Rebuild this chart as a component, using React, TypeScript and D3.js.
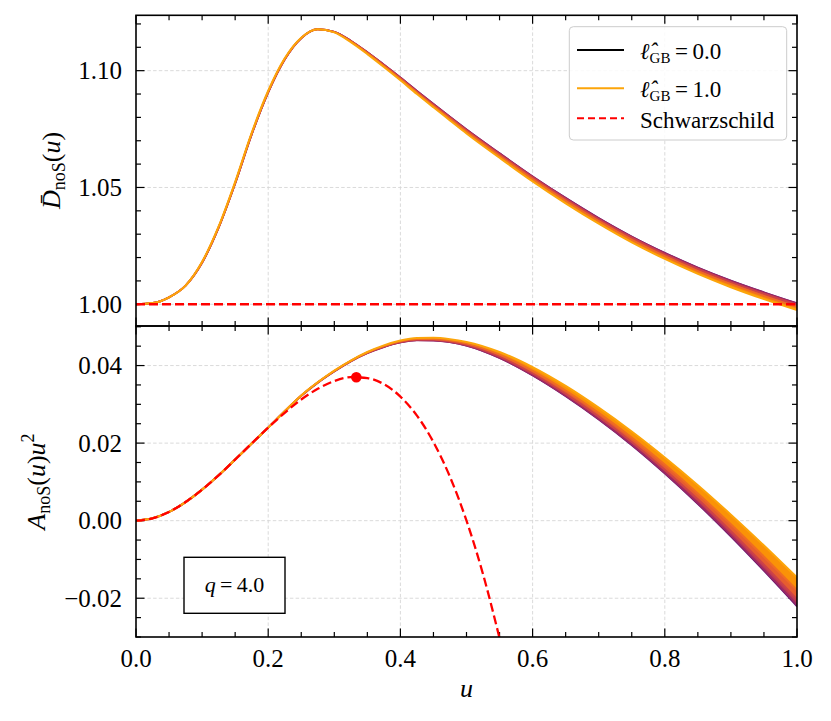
import React from 'react';
import * as d3 from 'd3';

// shared u grid for all GB curves
const uGrid = [
  0, 0.025, 0.05, 0.075, 0.1, 0.125, 0.15, 0.175, 0.2, 0.225, 0.25, 0.275, 0.3, 0.325,
  0.35, 0.375, 0.4, 0.425, 0.45, 0.475, 0.5, 0.55, 0.6, 0.65, 0.7, 0.75, 0.8, 0.85, 0.9, 0.95, 1.0,
];

const ellValues = [0, 0.25, 0.5, 0.75, 1.0];

// top panel: D_noS(u) for each l_GB
const dTopL000 = [
  1.0, 1.0005, 1.003, 1.008, 1.0178, 1.0328, 1.0517, 1.0726, 1.0907, 1.1048, 1.1139, 1.1177, 1.1167, 1.1128,
  1.1079, 1.1026, 1.0971, 1.0914, 1.0858, 1.0803, 1.0749, 1.0647, 1.0548, 1.0456, 1.037, 1.0291, 1.0221, 1.0158, 1.0102, 1.0052, 1.0005,
];
const dTopL025 = [
  1.0, 1.0005, 1.003, 1.008, 1.0178, 1.0328, 1.0517, 1.0727, 1.0907, 1.1048, 1.1139, 1.1177, 1.1166, 1.1128,
  1.1079, 1.1025, 1.097, 1.0913, 1.0857, 1.0802, 1.0748, 1.0646, 1.0547, 1.0455, 1.0368, 1.0289, 1.0219, 1.0156, 1.01, 1.005, 1.0003,
];
const dTopL050 = [
  1.0, 1.0005, 1.003, 1.008, 1.0179, 1.0329, 1.0518, 1.0728, 1.0908, 1.1049, 1.114, 1.1177, 1.1166, 1.1127,
  1.1077, 1.1024, 1.0968, 1.091, 1.0854, 1.0799, 1.0745, 1.0642, 1.0543, 1.045, 1.0364, 1.0285, 1.0214, 1.0151, 1.0095, 1.0045, 0.9998,
];
const dTopL075 = [
  1.0, 1.0005, 1.003, 1.008, 1.018, 1.033, 1.052, 1.073, 1.091, 1.105, 1.114, 1.1177, 1.1165, 1.1125,
  1.1075, 1.102, 1.0964, 1.0906, 1.0849, 1.0794, 1.0739, 1.0636, 1.0536, 1.0443, 1.0356, 1.0276, 1.0206, 1.0142, 1.0086, 1.0035, 0.9988,
];
const dTopL100 = [
  1.0, 1.0005, 1.003, 1.008, 1.0182, 1.0333, 1.0524, 1.0734, 1.0914, 1.1053, 1.1141, 1.1177, 1.1164, 1.1122,
  1.1071, 1.1016, 1.0959, 1.09, 1.0843, 1.0787, 1.0731, 1.0627, 1.0526, 1.0432, 1.0345, 1.0265, 1.0194, 1.013, 1.0073, 1.0022, 0.9975,
];

// bottom panel: A_noS(u) u^2 for each l_GB
const aBotL000 = [
  0, 0.0006, 0.00225, 0.0048, 0.008, 0.0117, 0.01575, 0.0199, 0.024, 0.0282, 0.0322, 0.0356, 0.0385, 0.0411,
  0.0432, 0.0448, 0.04595, 0.0465, 0.04645, 0.046, 0.0451, 0.0419, 0.0374, 0.03205, 0.02605, 0.0194, 0.0121, 0.00425, -0.00415, -0.013, -0.02215,
];
const aBotL025 = [
  0, 0.0006, 0.00225, 0.0048, 0.008, 0.0117, 0.01575, 0.0199, 0.024, 0.0282, 0.0322, 0.0356, 0.0385, 0.0411,
  0.0432, 0.0448, 0.04598, 0.04654, 0.04649, 0.04605, 0.04516, 0.042, 0.03754, 0.03222, 0.02624, 0.01963, 0.01236, 0.00456, -0.00379, -0.01259, -0.02168,
];
const aBotL050 = [
  0, 0.0006, 0.00225, 0.0048, 0.008, 0.0117, 0.01575, 0.0199, 0.024, 0.0282, 0.0322, 0.0356, 0.0386, 0.0412,
  0.0433, 0.0449, 0.04608, 0.04665, 0.04663, 0.0462, 0.04535, 0.0423, 0.03795, 0.0327, 0.02683, 0.0203, 0.01315, 0.0055, -0.0027, -0.01135, -0.0203,
];
const aBotL075 = [
  0, 0.0006, 0.00225, 0.0048, 0.008, 0.0117, 0.01575, 0.0199, 0.024, 0.0282, 0.0323, 0.0357, 0.0386, 0.0412,
  0.0434, 0.045, 0.04623, 0.04684, 0.04684, 0.04645, 0.04566, 0.0428, 0.03864, 0.03357, 0.02779, 0.02143, 0.01446, 0.00701, -0.00094, -0.00929, -0.01793,
];
const aBotL100 = [
  0, 0.0006, 0.00225, 0.0048, 0.008, 0.0117, 0.01575, 0.0199, 0.024, 0.0282, 0.0323, 0.0357, 0.0387, 0.0413,
  0.0435, 0.0452, 0.04645, 0.0471, 0.04715, 0.0468, 0.0461, 0.0435, 0.0396, 0.03475, 0.02915, 0.023, 0.0163, 0.00915, 0.00155, -0.0064, -0.01465,
];

const dTop = [dTopL000, dTopL025, dTopL050, dTopL075, dTopL100];
const aBot = [aBotL000, aBotL025, aBotL050, aBotL075, aBotL100];

// Schwarzschild reference
const schwTopU = [0, 1];
const schwTopD = [1, 1];
const schwU = [
  0, 0.025, 0.05, 0.075, 0.1, 0.125, 0.15, 0.175, 0.2, 0.225, 0.25, 0.275, 0.3, 0.325,
  0.35, 0.375, 0.4, 0.425, 0.45, 0.475, 0.5, 0.525, 0.55,
];
const schwA = [
  0, 0.0006, 0.00225, 0.0048, 0.008, 0.0117, 0.01575, 0.0199, 0.024, 0.0278, 0.03125, 0.034, 0.036, 0.037,
  0.03675, 0.0352, 0.032, 0.0271, 0.02025, 0.0113, 0, -0.0138, -0.0303,
];
const schwPeakU = 0.3333;
const schwPeakA = 0.037;

// ticks
const xTicks = [0, 0.2, 0.4, 0.6, 0.8, 1.0];
const xTickLabels = ['0.0', '0.2', '0.4', '0.6', '0.8', '1.0'];
const yTopTicks = [1.0, 1.05, 1.1];
const yTopTickLabels = ['1.00', '1.05', '1.10'];
const yBotTicks = [-0.02, 0, 0.02, 0.04];
const yBotTickLabels = ['\u22120.02', '0.00', '0.02', '0.04'];

const FONT = "'Liberation Serif', 'DejaVu Serif', serif";
const L = 136;
const R = 797;
const TOP_T = 15.3;
const MID = 326;
const BOT_B = 637;

const x = d3.scaleLinear().domain([0, 1]).range([L, R]);
const yTop = d3.scaleLinear().domain([0.9907, 1.1237]).range([MID, TOP_T]);
const yBot = d3.scaleLinear().domain([-0.03, 0.0502]).range([BOT_B, MID]);
// band colours run from purple to orange along inferno
const bandColor = (ell: number) => d3.interpolateInferno(0.3 + 0.5 * ell);

const xMinor = d3.range(0, 21).map(i => i * 0.05);
const yTopMinor = d3.range(0, 14).map(i => 0.99 + i * 0.01);
const yBotMinor = d3.range(0, 17).map(i => -0.03 + i * 0.005);

function Band({ series, y }: { series: number[][]; y: d3.ScaleLinear<number, number> }) {
  const line = d3.line<number>()
    .x((_, i) => x(uGrid[i]))
    .y(d => y(d))
    .curve(d3.curveMonotoneX);
  const area = (lo: number[], hi: number[]) =>
    d3.area<number>()
      .x((_, i) => x(uGrid[i]))
      .y0((_, i) => y(lo[i]))
      .y1((_, i) => y(hi[i]))
      .curve(d3.curveMonotoneX)(lo) || '';
  return (
    <g>
      {series.slice(1).map((s, i) => (
        <path key={'a' + i} d={area(series[i], s)}
          fill={d3.interpolateInferno(0.26 + 0.5 * ellValues[i + 1])} stroke="none" />
      ))}
      {series.map((s, i) => (
        <path key={'l' + i} d={line(s) || ''} fill="none"
          stroke={bandColor(ellValues[i])} strokeWidth={i === 0 ? 1.5 : 2} />
      ))}
    </g>
  );
}

function Frame({ y, top, bottom, major, minor, labels, showX }: {
  y: d3.ScaleLinear<number, number>; top: number; bottom: number;
  major: number[]; minor: number[]; labels: string[]; showX: boolean;
}) {
  const inRange = (v: number) => y(v) <= bottom + 0.1 && y(v) >= top - 0.1;
  return (
    <g>
      {xTicks.slice(1, -1).map(t => (
        <line key={'gx' + t} x1={x(t)} x2={x(t)} y1={top} y2={bottom}
          stroke="#d6d6d6" strokeWidth={0.9} strokeDasharray="3.5,2.2" />
      ))}
      {major.map(t => (
        <line key={'gy' + t} x1={L} x2={R} y1={y(t)} y2={y(t)}
          stroke="#d6d6d6" strokeWidth={0.9} strokeDasharray="3.5,2.2" />
      ))}
      {xMinor.map((t, i) => {
        const len = i % 4 === 0 ? 8.5 : 5;
        return (
          <g key={'tx' + i} stroke="#000" strokeWidth={1.2}>
            <line x1={x(t)} x2={x(t)} y1={top} y2={top + len} />
            <line x1={x(t)} x2={x(t)} y1={bottom} y2={bottom - len} />
          </g>
        );
      })}
      {minor.filter(inRange).map((t, i) => {
        const isMajor = major.some(m => Math.abs(m - t) < 1e-6);
        const len = isMajor ? 8.5 : 5;
        return (
          <g key={'ty' + i} stroke="#000" strokeWidth={1.2}>
            <line x1={L} x2={L + len} y1={y(t)} y2={y(t)} />
            <line x1={R} x2={R - len} y1={y(t)} y2={y(t)} />
          </g>
        );
      })}
      {major.map((t, i) => (
        <text key={'ly' + t} x={122} y={y(t)} dy="0.34em" textAnchor="end"
          fontFamily={FONT} fontSize={25}>{labels[i]}</text>
      ))}
      {showX && xTicks.map((t, i) => (
        <text key={'lx' + t} x={x(t)} y={667} textAnchor="middle"
          fontFamily={FONT} fontSize={25}>{xTickLabels[i]}</text>
      ))}
    </g>
  );
}

function EllLabel({ xPos, yPos, value }: { xPos: number; yPos: number; value: string }) {
  return (
    <text x={xPos} y={yPos} fontFamily={FONT} fontSize={23}>
      <tspan fontStyle="italic">{'\u2113\u0302'}</tspan>
      <tspan fontSize={15} dy={4}>GB</tspan>
      <tspan dy={-4}>{'\u2009=\u2009' + value}</tspan>
    </text>
  );
}

export default function App() {
  const schwLineTop = d3.line<number>().x((_, i) => x(schwTopU[i])).y(d => yTop(d));
  const schwLineBot = d3.line<number>().x((_, i) => x(schwU[i])).y(d => yBot(d)).curve(d3.curveMonotoneX);

  return (
    <svg width={831} height={721} style={{ position: 'absolute', left: 0, top: 0, background: '#fff' }}>
      <defs>
        <clipPath id="clipTop"><rect x={L} y={TOP_T} width={R - L} height={MID - TOP_T} /></clipPath>
        <clipPath id="clipBot"><rect x={L} y={MID} width={R - L} height={BOT_B - MID} /></clipPath>
      </defs>
      <rect x={0} y={0} width={831} height={721} fill="#fff" />

      {/* top panel */}
      <Frame y={yTop} top={TOP_T} bottom={MID} major={yTopTicks} minor={yTopMinor}
        labels={yTopTickLabels} showX={false} />
      <g clipPath="url(#clipTop)">
        <Band series={dTop} y={yTop} />
        <path d={schwLineTop(schwTopD) || ''} fill="none" stroke="#ff0000"
          strokeWidth={2.3} strokeDasharray="9,4" />
      </g>

      {/* bottom panel */}
      <Frame y={yBot} top={MID} bottom={BOT_B} major={yBotTicks} minor={yBotMinor}
        labels={yBotTickLabels} showX={true} />
      <g clipPath="url(#clipBot)">
        <Band series={aBot} y={yBot} />
        <path d={schwLineBot(schwA) || ''} fill="none" stroke="#ff0000"
          strokeWidth={2.3} strokeDasharray="9,4" />
        <circle cx={x(schwPeakU)} cy={yBot(schwPeakA)} r={5.3} fill="#ff0000" />
      </g>

      <rect x={L} y={TOP_T} width={R - L} height={MID - TOP_T} fill="none" stroke="#000" strokeWidth={1.6} />
      <rect x={L} y={MID} width={R - L} height={BOT_B - MID} fill="none" stroke="#000" strokeWidth={1.6} />

      {/* axis labels */}
      <text transform="translate(60,170.5) rotate(-90)" textAnchor="middle" fontFamily={FONT} fontSize={26}>
        <tspan fontStyle="italic">{'D\u0304'}</tspan>
        <tspan fontSize={18} dy={5}>noS</tspan>
        <tspan dy={-5}>(</tspan>
        <tspan fontStyle="italic">u</tspan>
        <tspan>)</tspan>
      </text>
      <text transform="translate(45,481.5) rotate(-90)" textAnchor="middle" fontFamily={FONT} fontSize={26}>
        <tspan fontStyle="italic">A</tspan>
        <tspan fontSize={18} dy={5}>noS</tspan>
        <tspan dy={-5}>(</tspan>
        <tspan fontStyle="italic">u</tspan>
        <tspan>)</tspan>
        <tspan fontStyle="italic">u</tspan>
        <tspan fontSize={18} dy={-11}>2</tspan>
      </text>
      <text x={466.5} y={697} textAnchor="middle" fontFamily={FONT} fontSize={26} fontStyle="italic">u</text>

      {/* legend */}
      <g>
        <rect x={569.3} y={26.7} width={217.4} height={113.3} rx={4} fill="#fff" fillOpacity={0.85}
          stroke="#cccccc" strokeWidth={1} />
        <line x1={577} x2={624} y1={50} y2={50} stroke="#000000" strokeWidth={2} />
        <line x1={577} x2={624} y1={88.3} y2={88.3} stroke={d3.interpolateInferno(0.8)} strokeWidth={2} />
        <line x1={577} x2={624} y1={118.3} y2={118.3} stroke="#ff0000" strokeWidth={2} strokeDasharray="7,4" />
        <EllLabel xPos={640} yPos={58.5} value="0.0" />
        <EllLabel xPos={640} yPos={96.5} value="1.0" />
        <text x={640} y={127.5} fontFamily={FONT} fontSize={23}>Schwarzschild</text>
      </g>

      {/* parameter box */}
      <rect x={184} y={557.3} width={101} height={56} fill="#fff" stroke="#000" strokeWidth={1.4} />
      <text x={234.5} y={591.5} textAnchor="middle" fontFamily={FONT} fontSize={22}>
        <tspan fontStyle="italic">q</tspan>
        <tspan>{'\u2009=\u20094.0'}</tspan>
      </text>
    </svg>
  );
}
